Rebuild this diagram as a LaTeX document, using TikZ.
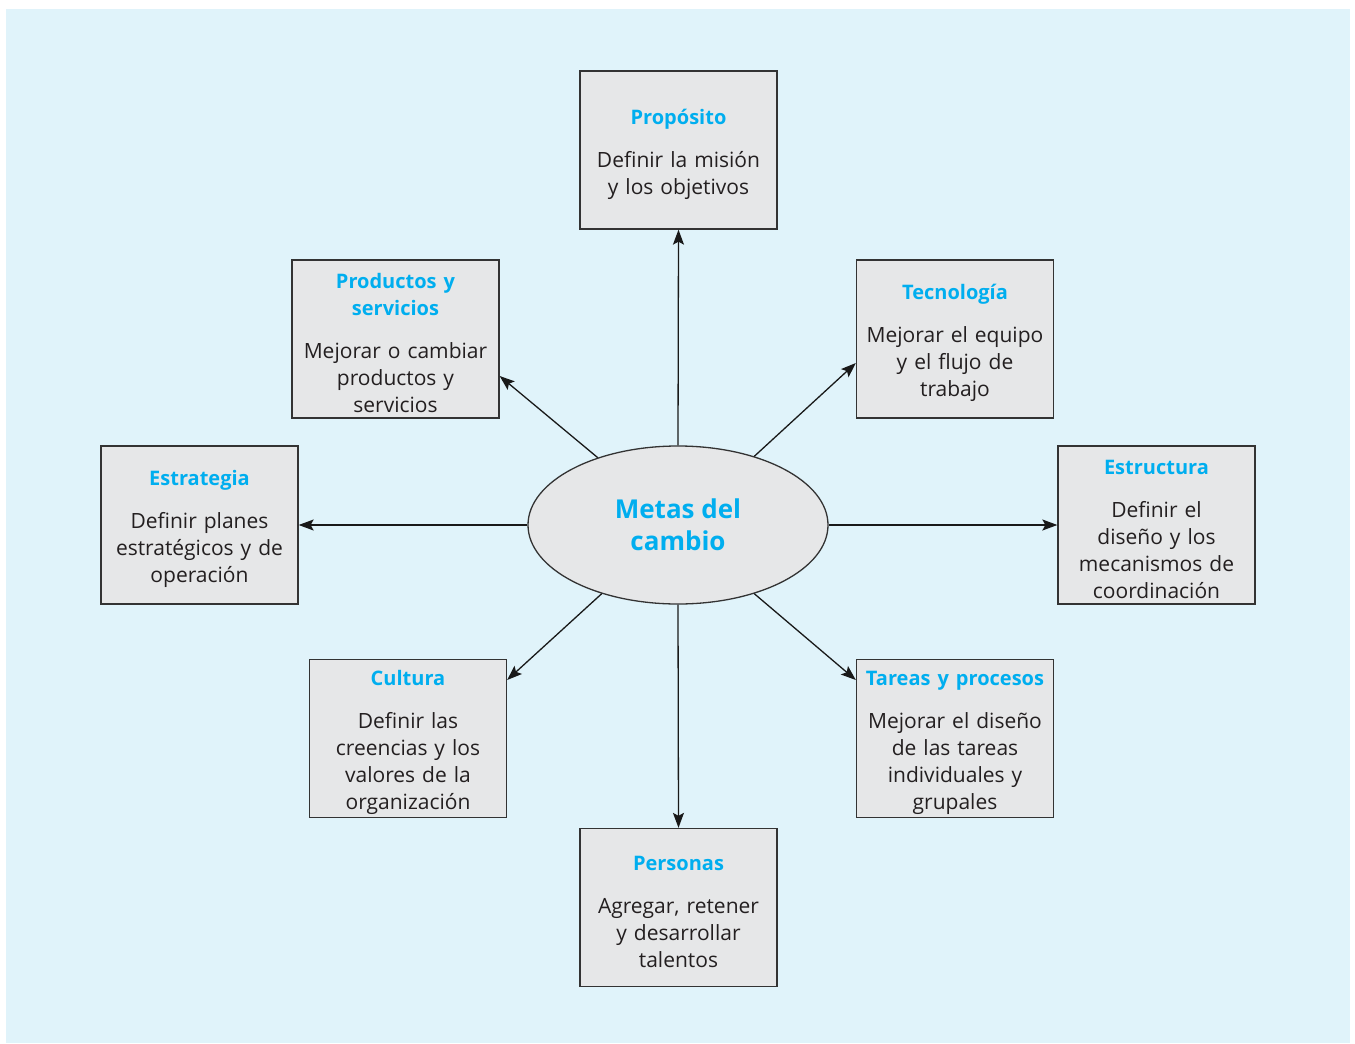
\documentclass[tikz,border=0pt]{standalone}
\usepackage{fontspec}
\setmainfont{Open Sans}
\usetikzlibrary{shapes.geometric,arrows.meta}
\definecolor{bgblue}{HTML}{E0F3FA}
\definecolor{boxfill}{HTML}{E6E7E8}
\definecolor{ttlblue}{HTML}{00AEEF}
\definecolor{txtdark}{HTML}{231F20}
\definecolor{edge}{HTML}{333333}
\tikzset{
  goalbox/.style={draw=edge, line width=1.3pt, fill=boxfill, minimum width=197pt, minimum height=158pt, inner sep=0pt},
  boxtext/.style={yshift=-4pt, text width=200pt, align=center, inner sep=0pt, text=txtdark, font=\fontsize{21}{27}\selectfont},
  goalell/.style={ellipse, draw=edge, line width=1.3pt, fill=boxfill, minimum width=300pt, minimum height=158pt,
    inner sep=0pt, align=center, text=ttlblue, font=\fontsize{26}{32}\selectfont\bfseries},
  arr/.style={draw=black!90, line width=1.3pt, -{Stealth[length=15pt,width=11pt,inset=3pt]}}
}
\newcommand{\ttl}[1]{{\color{ttlblue}\bfseries\fontsize{20}{27}\selectfont #1}}
\begin{document}
\begin{tikzpicture}[x=1pt,y=-1pt]
\useasboundingbox (0,0) rectangle (1355,1044);
\fill[white] (0,0) rectangle (1355,1044);
\fill[bgblue] (6,9) rectangle (1350,1043);

\node[goalell] (el) at (678,525) {Metas del\\cambio};

\node[goalbox, label={[boxtext]center:{\ttl{Propósito}\\[16pt]Definir la misión\\y los objetivos}}] (prop) at (678.5,150) {};
\node[goalbox, minimum width=207pt, label={[boxtext]center:{\ttl{Productos y}\\\ttl{servicios}\\[16pt]Mejorar o cambiar\\productos y\\servicios}}] (prod) at (395.5,339) {};
\node[goalbox, label={[boxtext]center:{\ttl{Tecnología}\\[16pt]Mejorar el equipo\\y el flujo de\\trabajo}}] (tec) at (955,339) {};
\node[goalbox, label={[boxtext]center:{\ttl{Estrategia}\\[16pt]Definir planes\\estratégicos y de\\operación}}] (estr) at (199.5,525) {};
\node[goalbox, label={[boxtext]center:{\ttl{Estructura}\\[16pt]Definir el\\diseño y los\\mecanismos de\\coordinación}}] (estc) at (1156.5,525) {};
\node[goalbox, label={[boxtext]center:{\ttl{Cultura}\\[16pt]Definir las\\creencias y los\\valores de la\\organización}}] (cult) at (408,738.5) {};
\node[goalbox, label={[boxtext]center:{\ttl{Tareas y procesos}\\[16pt]Mejorar el diseño\\de las tareas\\individuales y\\grupales}}] (tar) at (955,738.5) {};
\node[goalbox, label={[boxtext]center:{\ttl{Personas}\\[16pt]Agregar, retener\\y desarrollar\\talentos}}] (pers) at (678.5,907.5) {};

\draw[arr] (el.north) -- (prop.south);
\draw[arr] (el.south) -- (pers.north);
\draw[arr] (el.west) -- (estr.east);
\draw[arr] (el.east) -- (estc.west);
\draw[arr] (el.140.5) -- ([yshift=-37pt]prod.east);
\draw[arr] (el.42.6) -- ([yshift=-24pt]tec.west);
\draw[arr] (el.222.6) -- ([yshift=58.5pt]cult.east);
\draw[arr] (el.318.9) -- ([yshift=58.5pt]tar.west);
\end{tikzpicture}
\end{document}
